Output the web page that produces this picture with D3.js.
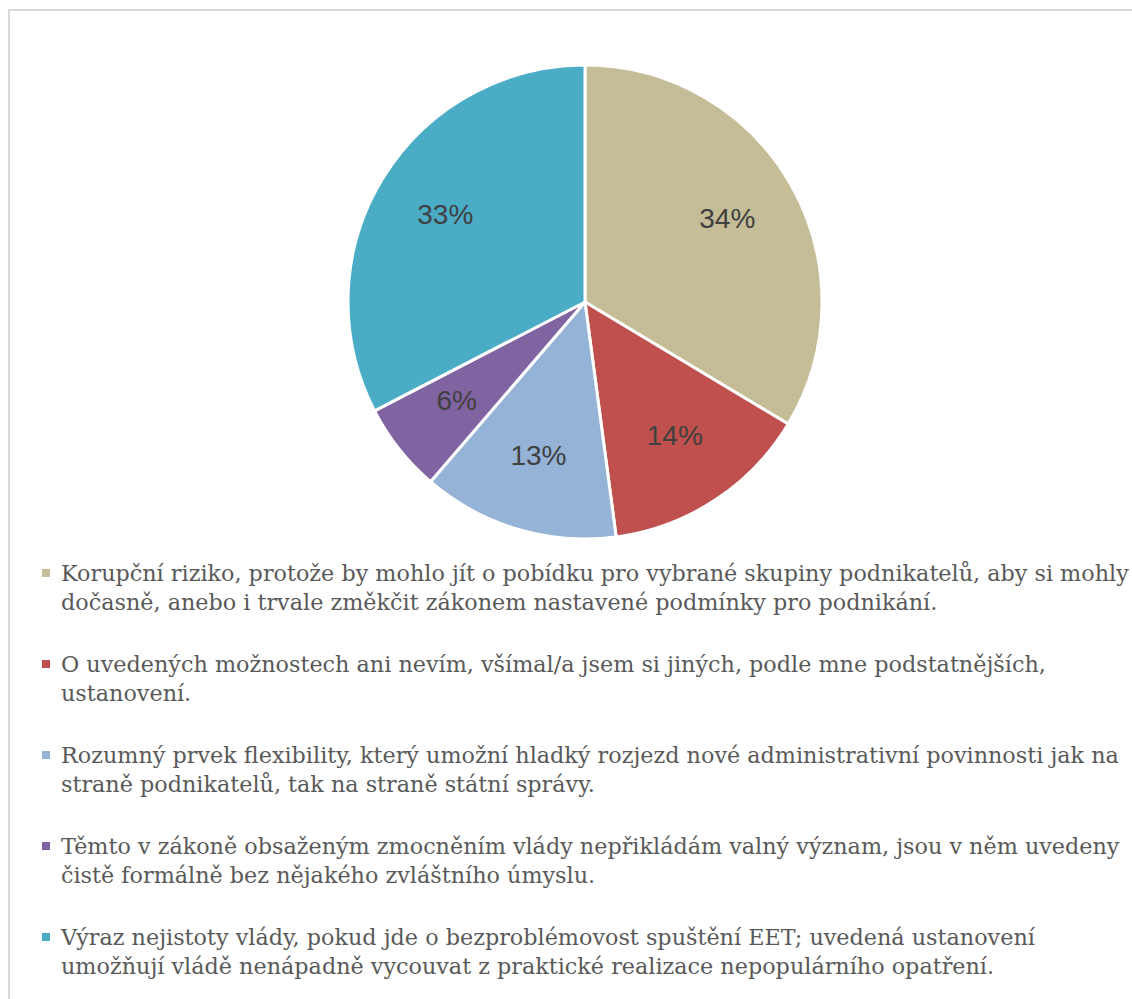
<!DOCTYPE html>
<html>
<head>
<meta charset="utf-8">
<script src="https://cdn.jsdelivr.net/npm/d3@7/dist/d3.min.js"></script>
<style>
  body { margin: 0; background: #fff; }
  .pie-label { font-family: "Liberation Sans", Arial, sans-serif; font-size: 28px; fill: #404040; }
  .legend-text { font-family: "DejaVu Serif", serif; font-size: 22.3px; fill: #595959; }
</style>
</head>
<body>
<div id="chart"></div>
<script>
// categories (legend text, split as in the original)
const categories = [
    ['Korupční riziko, protože by mohlo jít o pobídku pro vybrané skupiny podnikatelů, aby si mohly',
     'dočasně, anebo i trvale změkčit zákonem nastavené podmínky pro podnikání.'],
    ['O uvedených možnostech ani nevím, všímal/a jsem si jiných, podle mne podstatnějších,',
     'ustanovení.'],
    ['Rozumný prvek flexibility, který umožní hladký rozjezd nové administrativní povinnosti jak na',
     'straně podnikatelů, tak na straně státní správy.'],
    ['Těmto v zákoně obsaženým zmocněním vlády nepřikládám valný význam, jsou v něm uvedeny',
     'čistě formálně bez nějakého zvláštního úmyslu.'],
    ['Výraz nejistoty vlády, pokud jde o bezproblémovost spuštění EET; uvedená ustanovení',
     'umožňují vládě nenápadně vycouvat z praktické realizace nepopulárního opatření.']
];

// share of answers in %
const shares = [33.6, 14.3, 13.4, 6.1, 32.6];

const colors = ['#C4BD97', '#C0504D', '#95B3D7', '#8064A2', '#4BACC6'];

let width = 1132;
let height = 999;

let svg = d3.select('#chart').append('svg')
    .attr('width', width)
    .attr('height', height);

// chart frame (runs off the right and bottom edge)
svg.append('rect')
    .attr('x', 9)
    .attr('y', 10)
    .attr('width', 1300)
    .attr('height', 1200)
    .attr('fill', 'none')
    .attr('stroke', '#d9d9d9')
    .attr('stroke-width', 2);

// * PIE * //
let cx = 585, cy = 302, radius = 237;

let pie = d3.pie().sort(null).value((d) => d);
let arcs = pie(shares);

let arc = d3.arc().innerRadius(0).outerRadius(radius);
let labelArc = d3.arc().innerRadius(radius * 0.69).outerRadius(radius * 0.69);

let g = svg.append('g')
    .attr('transform', 'translate(' + cx + ',' + cy + ')');

g.selectAll('path')
    .data(arcs)
    .enter()
    .append('path')
    .attr('d', arc)
    .attr('fill', (d, i) => colors[i])
    .attr('stroke', '#fff')
    .attr('stroke-width', 3)
    .attr('stroke-linejoin', 'round');

g.selectAll('.pie-label')
    .data(arcs)
    .enter()
    .append('text')
    .attr('class', 'pie-label')
    .attr('text-anchor', 'middle')
    .attr('dy', '0.24em')
    .attr('transform', (d) => 'translate(' + labelArc.centroid(d) + ')')
    .text((d) => Math.round(d.value) + '%');

// * LEGEND * //
let legTop = 573;
let legStep = 91;
let lineStep = 29;

let leg = svg.append('g');

categories.forEach((lines, i) => {
    let y = legTop + i * legStep;
    leg.append('rect')
        .attr('x', 42)
        .attr('y', y - 4)
        .attr('width', 8)
        .attr('height', 8)
        .attr('fill', colors[i]);

    lines.forEach((line, j) => {
        leg.append('text')
            .attr('class', 'legend-text')
            .attr('x', 61)
            .attr('y', y + j * lineStep)
            .attr('dy', '0.34em')
            .text(line);
    });
});
</script>
</body>
</html>
